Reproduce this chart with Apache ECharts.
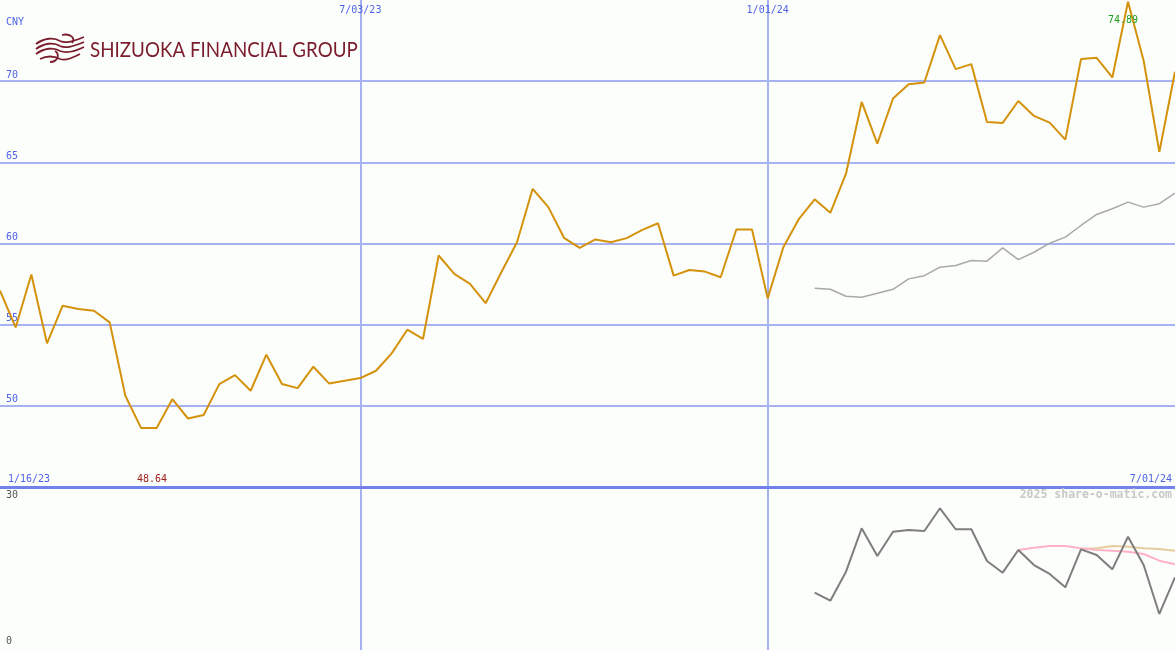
<!DOCTYPE html>
<html><head><meta charset="utf-8">
<script src="https://cdn.jsdelivr.net/npm/echarts@6/dist/echarts.min.js"></script>
<style>html,body{margin:0;padding:0;background:#fcfefb;} #c{width:1175px;height:650px;}</style>
</head><body><div id="c"></div>
<script>
const dates = [
 '1/23/23','1/30/23','2/06/23','2/13/23','2/20/23','2/27/23','3/06/23','3/13/23','3/20/23','3/27/23',
 '4/03/23','4/10/23','4/17/23','4/24/23','5/01/23','5/08/23','5/15/23','5/22/23','5/29/23','6/05/23',
 '6/12/23','6/19/23','6/26/23','7/03/23','7/10/23','7/17/23','7/24/23','7/31/23','8/07/23','8/14/23',
 '8/21/23','8/28/23','9/04/23','9/11/23','9/18/23','9/25/23','10/02/23','10/09/23','10/16/23','10/23/23',
 '10/30/23','11/06/23','11/13/23','11/20/23','11/27/23','12/04/23','12/11/23','12/18/23','12/25/23','1/01/24',
 '1/08/24','1/15/24','1/22/24','1/29/24','2/05/24','2/12/24','2/19/24','2/26/24','3/04/24','3/11/24',
 '3/18/24','3/25/24','4/01/24','4/08/24','4/15/24','4/22/24','4/29/24','5/06/24','5/13/24','5/20/24',
 '5/27/24','6/03/24','6/10/24','6/17/24','6/24/24','7/01/24'
];
const price = [
 57.10,54.83,58.09,53.85,56.17,55.97,55.86,55.14,50.62,48.64,
 48.64,50.41,49.22,49.44,51.34,51.89,50.93,53.15,51.34,51.09,
 52.41,51.38,51.54,51.71,52.16,53.23,54.69,54.12,59.26,58.13,
 57.51,56.32,58.23,60.08,63.37,62.24,60.35,59.73,60.25,60.08,
 60.33,60.84,61.25,58.02,58.37,58.27,57.92,60.86,60.86,56.62,
 59.77,61.52,62.72,61.89,64.30,68.72,66.15,68.93,69.81,69.92,
 72.84,70.74,71.05,67.49,67.43,68.78,67.86,67.45,66.40,71.36,
 71.44,70.23,74.89,71.26,65.64,70.58
];
// gray average line in the price panel, starting at date index 52
const avgStart = 52;
const priceAvg = [
 57.24,57.18,56.75,56.69,56.93,57.18,57.82,58.02,58.54,58.64,
 58.95,58.91,59.73,59.01,59.46,60.02,60.39,61.11,61.79,62.14,
 62.55,62.24,62.45,63.11
];
// lower panel (0-30)
const lowerStart = 52;
const lowerLine = [
 10.55,9.07,14.41,22.40,17.30,21.77,22.09,21.90,26.08,22.22,
 22.22,16.38,14.23,18.41,15.64,13.99,11.54,18.53,17.49,14.85,
 20.85,15.64,6.63,13.38
];
const pinkStart = 65;
const lowerPink = [18.41,18.83,19.14,19.14,18.72,18.41,18.28,18.09,17.67,16.44,15.77];
const tanStart = 69;
const lowerTan = [18.59,18.72,19.14,19.01,18.72,18.59,18.28];
const priceTicks = [50,55,60,65,70];
const markedDates = ['7/03/23','1/01/24'];
const startLabel = '1/16/23';
const endLabel = '7/01/24';

function pad(arr, start){ return dates.map((d,i)=> (i>=start && i-start<arr.length) ? arr[i-start] : null); }
const markedIdx = markedDates.map(d=>dates.indexOf(d));
const isMarked = (i)=> markedIdx.indexOf(i) >= 0;

const BLUE = '#4f63e6';
const GRID = '#a6b2f2';
const MONO = '"DejaVu Sans Mono", monospace';

const chart = echarts.init(document.getElementById('c'), null, {renderer:'canvas'});
const option = {
  backgroundColor: '#fcfefb',
  animation: false,
  grid: [
    {left:0, right:0, top:0, height:487, containLabel:false},
    {left:0, right:0, top:487, height:163, containLabel:false}
  ],
  xAxis: [
    {type:'category', gridIndex:0, data:dates, boundaryGap:false, position:'top',
     axisLine:{show:false, onZero:false}, axisTick:{show:false},
     axisLabel:{inside:true, interval:(i)=>isMarked(i), margin:5, color:BLUE, fontFamily:MONO, fontSize:10, verticalAlign:'top'},
     splitLine:{show:true, interval:(i)=>isMarked(i), lineStyle:{color:GRID, width:2}}},
    {type:'category', gridIndex:1, data:dates, boundaryGap:false, position:'top',
     axisLine:{show:true, onZero:false, lineStyle:{color:'#7382ea', width:3}}, axisTick:{show:false},
     axisLabel:{show:false},
     splitLine:{show:true, interval:(i)=>isMarked(i), lineStyle:{color:GRID, width:2}}}
  ],
  yAxis: [
    {type:'value', gridIndex:0, min:45, max:75, interval:5,
     axisLine:{show:false}, axisTick:{show:false},
     axisLabel:{inside:true, margin:6, color:BLUE, fontFamily:MONO, fontSize:10, verticalAlign:'bottom', padding:[0,0,1,0],
       formatter:(v)=> priceTicks.indexOf(v)>=0 ? String(v) : ''},
     splitLine:{show:true, lineStyle:{color:['rgba(0,0,0,0)',GRID,GRID,GRID,GRID,GRID,'rgba(0,0,0,0)'], width:2}}},
    {type:'value', gridIndex:1, min:0, max:30,
     axisLine:{show:false}, axisTick:{show:false}, axisLabel:{show:false}, splitLine:{show:false}}
  ],
  series: [
    {type:'line', xAxisIndex:0, yAxisIndex:0, data:pad(priceAvg,avgStart), symbol:'none', lineStyle:{color:'#a9a9a9', width:1.5}, z:3},
    {type:'line', xAxisIndex:0, yAxisIndex:0, data:price, symbol:'none', lineStyle:{color:'#d4920c', width:2}, z:4},
    {type:'line', xAxisIndex:1, yAxisIndex:1, data:pad(lowerTan,tanStart), symbol:'none', lineStyle:{color:'#e6cc9c', width:2}, z:3},
    {type:'line', xAxisIndex:1, yAxisIndex:1, data:pad(lowerPink,pinkStart), symbol:'none', lineStyle:{color:'#ffb2c6', width:2}, z:3},
    {type:'line', xAxisIndex:1, yAxisIndex:1, data:pad(lowerLine,lowerStart), symbol:'none', lineStyle:{color:'#7e7e7e', width:2}, z:4}
  ]
};
chart.setOption(option);

const minV = Math.min.apply(null, price), maxV = Math.max.apply(null, price);
const minI = price.indexOf(minV), maxI = price.indexOf(maxV);
const minPx = chart.convertToPixel({xAxisIndex:0}, minI);
const maxPx = chart.convertToPixel({xAxisIndex:0}, maxI);

function txt(text, x, y, fill, opts){
  return {type:'text', z:10, style:Object.assign({text:text, x:x, y:y, fill:fill, font:'10px '+MONO, textAlign:'left', textVerticalAlign:'top'}, opts||{})};
}
const LOGO = '#7a1c2c';
function curve(x1,y1,c1x,c1y,c2x,c2y,x2,y2){
  return {type:'bezierCurve', z:10, shape:{x1:x1,y1:y1,cpx1:c1x,cpy1:c1y,cpx2:c2x,cpy2:c2y,x2:x2,y2:y2}, style:{stroke:LOGO, fill:null, lineWidth:1.8}};
}
chart.setOption({graphic:[
  txt('CNY', 6, 17, BLUE),
  txt(startLabel, 8, 474, BLUE),
  txt(endLabel, 1172, 474, BLUE, {textAlign:'right'}),
  txt(minV.toFixed(2), minPx-4, 474, '#a01c1c'),
  txt(maxV.toFixed(2), maxPx-5, 15, '#22a022', {textAlign:'center'}),
  txt('2025 share-o-matic.com', 1172, 489, '#c8c8c8', {textAlign:'right', font:'bold 11.5px '+MONO}),
  txt('30', 6, 490, '#555555'),
  txt('0', 6, 636, '#555555'),
  {type:'text', z:10, x:90, y:50, scaleX:0.895, style:{text:'SHIZUOKA FINANCIAL GROUP', x:0, y:0, fill:LOGO, font:'21px Lato, "Noto Sans", sans-serif', textAlign:'left', textVerticalAlign:'middle'}},
  curve(36,44, 44,38, 54,37, 60,41),
  curve(60,41, 66,44, 74,41, 84,37),
  curve(36,49, 44,43, 54,42, 60,46),
  curve(60,46, 66,49, 74,46, 84,42),
  curve(36,54, 44,48, 54,47, 60,51),
  curve(60,51, 68,54, 76,51, 84,47),
  curve(40,59, 48,55, 54,56, 60,59),
  curve(60,59, 66,61, 72,58, 80,54),
  curve(50,62, 58,62, 60,54, 55,51),
  curve(62,35, 70,33, 76,38, 72,43)
]});
</script></body></html>
